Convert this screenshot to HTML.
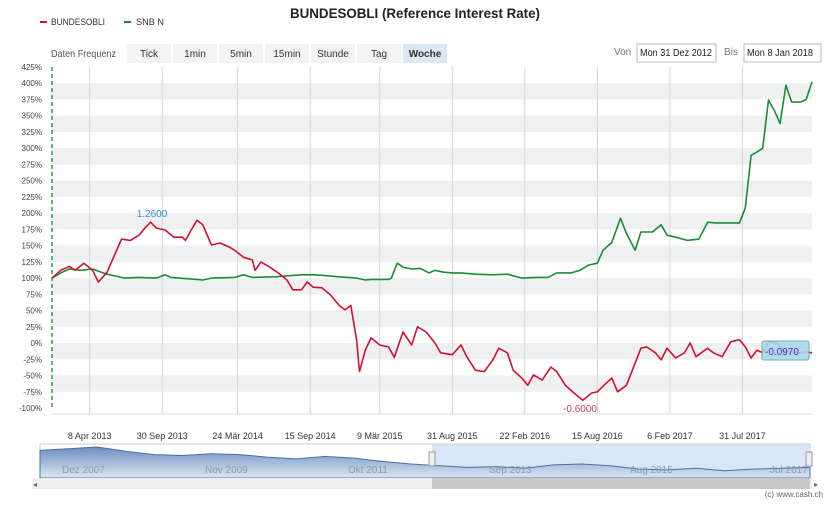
<!DOCTYPE html>
<html><head><meta charset="utf-8"><style>
body{margin:0;background:#fff;font-family:"Liberation Sans",sans-serif;}
svg text{font-family:"Liberation Sans",sans-serif;}
</style></head><body>
<svg id="c" width="830" height="501" xmlns="http://www.w3.org/2000/svg">
<defs><linearGradient id="nav" x1="0" y1="0" x2="0" y2="1"><stop offset="0" stop-color="#6d8fc0"/><stop offset="1" stop-color="#dce6f3"/></linearGradient></defs>
<text x="415" y="18" text-anchor="middle" font-size="14" font-weight="bold" fill="#222" textLength="250" lengthAdjust="spacingAndGlyphs">BUNDESOBLI (Reference Interest Rate)</text>
<g>
<g><rect x="40" y="21" width="7" height="2" fill="#d4112e"/><text x="51" y="25" font-size="9" fill="#333" textLength="54" lengthAdjust="spacingAndGlyphs">BUNDESOBLI</text></g>
<g><rect x="124" y="21" width="7" height="2" fill="#1d8a3a"/><text x="136" y="25" font-size="9" fill="#333" textLength="28" lengthAdjust="spacingAndGlyphs">SNB N</text></g>
</g>
<text x="51" y="57" font-size="10" fill="#555" textLength="65" lengthAdjust="spacingAndGlyphs">Daten Frequenz</text>
<g id="freq"></g>
<text x="614" y="55" font-size="10" fill="#777">Von</text>
<rect x="637" y="44" width="79" height="18" fill="#fff" stroke="#bbb"/>
<text x="640" y="56" font-size="10" fill="#222" textLength="72" lengthAdjust="spacingAndGlyphs">Mon 31 Dez 2012</text>
<text x="724" y="55" font-size="10" fill="#777">Bis</text>
<rect x="744" y="44" width="77" height="18" fill="#fff" stroke="#bbb"/>
<text x="747" y="56" font-size="10" fill="#222" textLength="66" lengthAdjust="spacingAndGlyphs">Mon 8 Jan 2018</text>
<g id="bands"></g><g id="grid"></g><g id="yt"></g><g id="xt"></g>
<line x1="52" y1="67" x2="52" y2="410" stroke="#2a9a55" stroke-width="1.5" stroke-dasharray="4,3"/>
<g id="series"></g>
<text x="152" y="217" font-size="10" fill="#2a8fd0" text-anchor="middle">1.2600</text>
<text x="580" y="412" font-size="10" fill="#c0406a" text-anchor="middle">-0.6000</text>
<g><rect x="762" y="341" width="47" height="19" rx="2" fill="#a8d8ea" stroke="#6aa" opacity="0.9"/><text x="765" y="355" font-size="10" fill="#5a1fd0">-0.0970</text></g>
<line x1="52" y1="414" x2="812" y2="414" stroke="#ddd"/>
<g>
<rect x="40" y="444" width="770" height="34" fill="#fff" stroke="#ccc"/>
<rect x="432" y="444" width="378" height="34" fill="#cfe0f5" opacity="0.8"/>
<path id="navarea" fill="url(#nav)" stroke="#4a6fa5" stroke-width="1"/>
<text x="62" y="473" font-size="10" fill="#8a9ab0">Dez 2007</text>
<text x="205" y="473" font-size="10" fill="#8a9ab0">Nov 2009</text>
<text x="348" y="473" font-size="10" fill="#8a9ab0">Okt 2011</text>
<text x="489" y="473" font-size="10" fill="#8a9ab0">Sep 2013</text>
<text x="630" y="473" font-size="10" fill="#8a9ab0">Aug 2015</text>
<text x="770" y="473" font-size="10" fill="#8a9ab0">Jul 2017</text>
<rect x="429" y="452" width="6" height="14" fill="#eee" stroke="#999"/>
<rect x="806" y="452" width="6" height="14" fill="#eee" stroke="#999"/>
<rect x="32" y="478" width="780" height="11" fill="#eee"/>
<rect x="432" y="478" width="378" height="11" fill="#c8c8c8"/>
<text x="33" y="487" font-size="8" fill="#666">◂</text><text x="814" y="487" font-size="8" fill="#666">▸</text>
</g>
<text x="823" y="497" font-size="8" fill="#666" text-anchor="end">(c) www.cash.ch</text>
</svg>
<script>
const freqLabels=["Tick","1min","5min","15min","Stunde","Tag","Woche"];
const yTicks=[425,400,375,350,325,300,275,250,225,200,175,150,125,100,75,50,25,0,-25,-50,-75,-100];
const xTickLabels=["8 Apr 2013","30 Sep 2013","24 Mär 2014","15 Sep 2014","9 Mär 2015","31 Aug 2015","22 Feb 2016","15 Aug 2016","6 Feb 2017","31 Jul 2017"];
const xTickWeeks=[13,38,64,89,113,138,163,188,213,238];
const redWeeks=[0,3,6,8,11,14,16,19,22,24,27,30,32,34,36,39,42,45,46,48,50,52,55,58,61,63,66,69,70,72,75,78,81,83,86,88,90,93,96,99,101,103,105,106,108,110,113,116,118,121,124,126,129,132,134,138,141,143,146,149,152,154,157,159,162,164,166,169,172,174,177,180,183,186,188,191,193,195,198,201,203,205,208,210,212,215,218,220,222,226,228,231,234,237,239,241,243,245,247,250,252,255,258,260,262];
const redVals=[100,112,118,112,123,112,94,109,140,160,158,166,177,186,177,174,163,163,158,174,189,182,151,154,148,143,132,128,112,125,117,108,97,82,82,94,86,85,74,58,51,58,5,-44,-11,8,-3,-6,-22,17,-3,25,17,0,-15,-18,-3,-21,-42,-44,-26,-8,-15,-42,-54,-65,-49,-57,-37,-44,-65,-77,-88,-77,-75,-62,-54,-75,-65,-31,-8,-6,-15,-26,-8,-23,-15,0,-21,-8,-15,-21,2,5,-6,-23,-11,-15,2,0,-11,-14,-15,-14,-15];
const greenWeeks=[0,3,6,10,14,17,19,22,25,30,36,39,41,50,52,55,63,66,69,77,86,91,99,105,108,110,116,117,119,121,124,127,130,132,135,138,141,146,152,157,162,167,171,174,179,182,185,188,190,193,196,198,201,203,207,210,212,215,219,223,226,229,234,237,239,241,243,245,247,249,251,253,255,258,260,262];
const greenVals=[100,108,114,112,114,109,106,103,100,101,100,105,101,98,97,100,101,105,101,102,105,105,102,100,97,98,98,100,123,117,114,115,108,112,109,108,108,106,105,106,100,101,101,108,108,112,120,123,143,155,192,169,143,171,171,182,166,163,158,160,186,185,185,185,208,289,294,300,374,358,338,397,371,371,375,402];
const navVals=[100,102,104,99,95,94,96,95,92,90,93,91,87,84,82,80,81,79,83,84,82,78,77,79,76,78,79,80];

const NS="http://www.w3.org/2000/svg";
const svg=document.getElementById('c');
function mk(t,a,p){const e=document.createElementNS(NS,t);for(const k in a)e.setAttribute(k,a[k]);(p||svg).appendChild(e);return e;}
const X0=52,X1=812,Y0=67,Y1=408,YMAX=425,YMIN=-100,WMAX=262;
const xs=w=>X0+w*(X1-X0)/WMAX;
const ys=v=>Y0+(YMAX-v)*(Y1-Y0)/(YMAX-YMIN);

const fg=document.getElementById('freq');
let fx=127;
freqLabels.forEach((l,i)=>{
  const w=44;
  const r=mk('rect',{x:fx,y:44,width:w,height:19,fill:i===6?'#dde8f3':'#f3f3f3'},fg);
  
  
  const t=mk('text',{x:fx+w/2,y:57,'font-size':10,'text-anchor':'middle',fill:'#333','font-weight':i===6?'bold':'normal'},fg);
  t.textContent=l;
  fx+=w+2;
});

const bg=document.getElementById('bands');
for(let i=0;i<yTicks.length-1;i++){
  if(i%2===1){const r=mk('rect',{x:X0,y:ys(yTicks[i]),width:X1-X0,height:ys(yTicks[i+1])-ys(yTicks[i]),fill:'#eff0f2'},bg);
  
  }
}
const yg=document.getElementById('yt');
yTicks.forEach(v=>{
  const t=mk('text',{x:42,y:ys(v)+3,'font-size':8,'text-anchor':'end',fill:'#444'},yg);
  t.textContent=v+'%';
  
  
});
const gg=document.getElementById('grid'),xg=document.getElementById('xt');
xTickWeeks.forEach((w,i)=>{
  const l=mk('line',{x1:xs(w),x2:xs(w),y1:Y0,y2:414,stroke:'#d6d6d6'},gg);
  
  
  const t=mk('text',{x:xs(w),y:439,'font-size':9,'text-anchor':'middle',fill:'#333'},xg);
  t.textContent=xTickLabels[i];
  
  
});
const sg=document.getElementById('series');
function line(ws,vs,col,name){
  const d=ws.map((w,i)=>(i?'L':'M')+xs(w).toFixed(1)+','+ys(vs[i]).toFixed(1)).join('');
  const p=mk('path',{d:d,fill:'none',stroke:col,'stroke-width':1.6,'stroke-linejoin':'round'},sg);
  
  
}
line(greenWeeks,greenVals,'#1d8a3a','snb-line');
line(redWeeks,redVals,'#d4112e','bundesobli-line');

const nx=i=>40+i*770/(navVals.length-1), ny=v=>447+(104-v)*0.85;
let nd='M40,478'+navVals.map((v,i)=>'L'+nx(i).toFixed(1)+','+ny(v).toFixed(1)).join('')+'L810,478Z';
document.getElementById('navarea').setAttribute('d',nd);
</script>
</body></html>
